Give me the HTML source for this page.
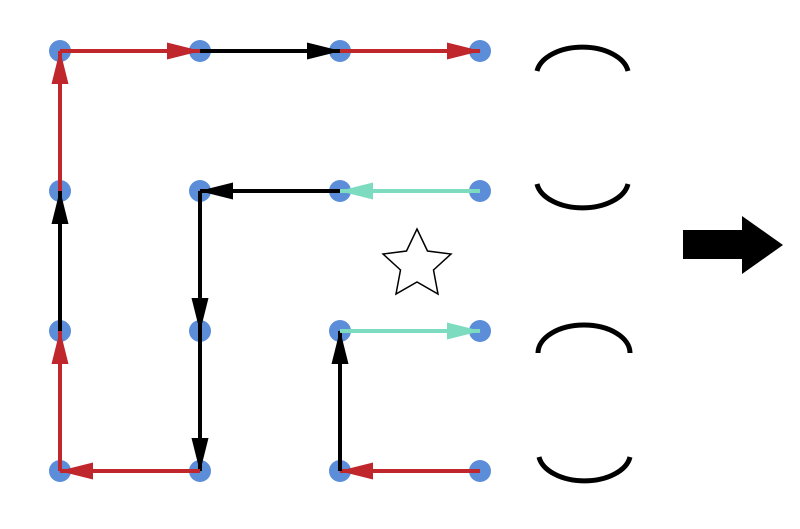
<!DOCTYPE html>
<html><head><style>html,body{margin:0;padding:0;background:#fff}</style></head>
<body>
<svg width="800" height="524" viewBox="0 0 800 524" xmlns="http://www.w3.org/2000/svg">
<defs>
<marker id="r" markerUnits="userSpaceOnUse" markerWidth="34" markerHeight="20" refX="33" refY="10" orient="auto"><path d="M0,1.5 L34,10 L0,18.5 Z" fill="#c0272d"/></marker>
<marker id="k" markerUnits="userSpaceOnUse" markerWidth="34" markerHeight="20" refX="33" refY="10" orient="auto"><path d="M0,1.5 L34,10 L0,18.5 Z" fill="#000"/></marker>
<marker id="t" markerUnits="userSpaceOnUse" markerWidth="34" markerHeight="20" refX="33" refY="10" orient="auto"><path d="M0,1.5 L34,10 L0,18.5 Z" fill="#7ddcc0"/></marker>
</defs>
<g fill="#5b8dd9">
<circle cx="60" cy="51" r="11"/><circle cx="200" cy="51" r="11"/><circle cx="340" cy="51" r="11"/><circle cx="480" cy="51" r="11"/>
<circle cx="60" cy="191" r="11"/><circle cx="200" cy="191" r="11"/><circle cx="340" cy="191" r="11"/><circle cx="480" cy="191" r="11"/>
<circle cx="60" cy="331" r="11"/><circle cx="200" cy="331" r="11"/><circle cx="340" cy="331" r="11"/><circle cx="480" cy="331" r="11"/>
<circle cx="60" cy="471" r="11"/><circle cx="200" cy="471" r="11"/><circle cx="340" cy="471" r="11"/><circle cx="480" cy="471" r="11"/>
</g>
<g stroke-width="4" fill="none">
<line x1="60" y1="471" x2="60" y2="331" stroke="#c0272d" marker-end="url(#r)"/>
<line x1="60" y1="331" x2="60" y2="191" stroke="#000" marker-end="url(#k)"/>
<line x1="60" y1="191" x2="60" y2="51" stroke="#c0272d" marker-end="url(#r)"/>
<line x1="60" y1="51" x2="200" y2="51" stroke="#c0272d" marker-end="url(#r)"/>
<line x1="200" y1="51" x2="340" y2="51" stroke="#000" marker-end="url(#k)"/>
<line x1="340" y1="51" x2="480" y2="51" stroke="#c0272d" marker-end="url(#r)"/>
<line x1="480" y1="191" x2="340" y2="191" stroke="#7ddcc0" marker-end="url(#t)"/>
<line x1="340" y1="191" x2="200" y2="191" stroke="#000" marker-end="url(#k)"/>
<line x1="200" y1="191" x2="200" y2="331" stroke="#000" marker-end="url(#k)"/>
<line x1="200" y1="331" x2="200" y2="471" stroke="#000" marker-end="url(#k)"/>
<line x1="200" y1="471" x2="60" y2="471" stroke="#c0272d" marker-end="url(#r)"/>
<line x1="480" y1="471" x2="340" y2="471" stroke="#c0272d" marker-end="url(#r)"/>
<line x1="340" y1="471" x2="340" y2="331" stroke="#000" marker-end="url(#k)"/>
<line x1="340" y1="331" x2="480" y2="331" stroke="#7ddcc0" marker-end="url(#t)"/>
</g>
<g stroke="#000" stroke-width="5" fill="none">
<path d="M537,71 A46,28 0 0 1 628,71" transform="translate(0,0)"/>
<path d="M537,184 A46,28 0 0 0 628,184"/>
<path d="M538,353 A46,28 0 0 1 630,353"/>
<path d="M539,457 A46,28 0 0 0 630,457"/>
</g>
<polygon points="417,229 427.5,251 451,254 433.5,270 438,294 417,282 396,294 400.5,270 383,254 406.5,251" fill="#fff" stroke="#000" stroke-width="1.5"/>
<polygon points="683,230 742,230 742,216 783,245 742,274 742,259 683,259" fill="#000"/>
</svg>
</body></html>
